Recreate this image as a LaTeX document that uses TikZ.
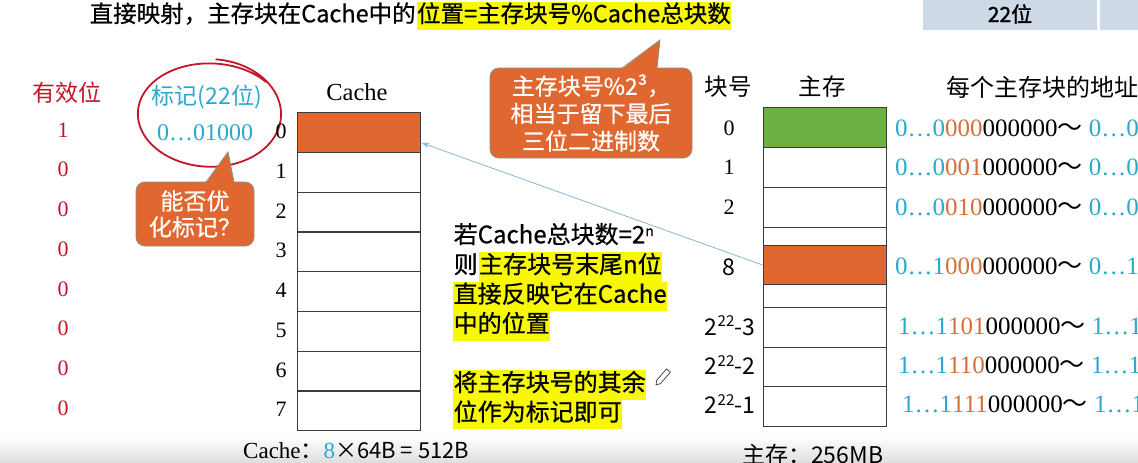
\documentclass[tikz,border=0pt]{standalone}
\usepackage{fontspec}
\setmainfont{Liberation Serif}
\newfontfamily\cjk{Noto Sans CJK SC}
\newfontfamily\cjkm[FakeBold=0.6]{Noto Sans CJK SC}
\newfontfamily\cjkb[FakeBold=1.6]{Noto Sans CJK SC}
\usetikzlibrary{calc,arrows.meta}
\definecolor{orng}{RGB}{224,104,48}
\definecolor{grn}{RGB}{108,176,68}
\definecolor{cyn}{RGB}{44,168,208}
\definecolor{redt}{RGB}{196,22,42}
\definecolor{hl}{RGB}{248,248,0}
\definecolor{cellbg}{RGB}{206,217,232}
\definecolor{addrorg}{RGB}{214,112,56}
\definecolor{linkc}{RGB}{140,180,215}
\definecolor{boxline}{RGB}{60,60,60}
\newcommand\myfs[2]{\fontsize{#1}{#2}\selectfont}
\newcommand\addr[3]{\textcolor{cyn}{#1}\textcolor{addrorg}{#2}000000{\cjk ～} \textcolor{cyn}{#3}}
\newcommand\pw[1]{2\raisebox{0.7ex}{\myfs{15}{15}22}-#1}

\begin{document}
\begin{tikzpicture}[x=1pt,y=-1pt,
  rowbox/.style={draw=boxline, line width=1.3pt, minimum width=123pt, inner sep=0, anchor=north west},
  numlab/.style={font=\myfs{22}{26}, inner sep=0},
  cjklab/.style={font=\cjk\myfs{23}{27}, inner sep=0},
  txtline/.style={font=\cjkm\myfs{24}{28}, anchor=west, inner xsep=0.5pt, inner ysep=3.3pt, text height=17.5pt, text depth=5pt},
  hlline/.style={txtline, fill=hl},
  callout/.style={draw=black!45, line width=0.8pt, fill=orng, rounded corners=9pt, text=white, align=center, inner sep=0},
  addrtxt/.style={font=\myfs{25}{29}, anchor=west, inner sep=0},
  redring/.style={draw=redt, line width=1.8pt, line cap=round}
]
\clip (0,0) rectangle (1138,463);
\fill[white] (0,0) rectangle (1138,463);

% soft grey band along the bottom edge
\shade[top color=white, bottom color=black!13] (0,436) rectangle (1138,463);

% header cells at the top right
\fill[cellbg] (923,0) rectangle (1097,30);
\fill[cellbg] (1100,0) rectangle (1138,30);
\node[font=\cjkb\myfs{21}{25}, inner sep=0] (w22) at (1010,14) {22位};

% title line
\node[txtline, font=\cjkm\myfs{23.5}{28}, inner ysep=3pt] (t1) at (89,16) {直接映射，主存块在Cache中的};
\node[hlline, font=\cjkm\myfs{23.5}{28}, inner ysep=3pt] (t2) at (t1.east) {位置=主存块号\%Cache总块数};

% valid bits
\node[cjklab, text=redt] (vh) at (67,93) {有效位};
\foreach \v [count=\i from 0] in {1,0,0,0,0,0,0,0}
  \node[numlab, text=redt] (v\i) at (63,130+39.7*\i) {\v};

% tag column
\node[cjklab, text=cyn] (tagh) at (207,97) {标记(22位)};
\node[font=\myfs{24}{28}, text=cyn, inner sep=0] (tagv) at (205,133) {0…01000};
\draw[redring] plot[domain=40:445, samples=90, smooth]
  ({210+(73-0.006*(\x-40))*cos(\x)}, {114-(50+0.012*(\x-40))*sin(\x)});

% callout: can the tag be shortened?
\node[callout, font=\cjkm\myfs{23}{26}, minimum width=118pt, minimum height=64pt] (q1) at (195,214)
  {能否优\\化标记？};
\fill[orng] (206,183) -- (228,152) -- (234,183) -- cycle;
\draw[black!45, line width=0.8pt] (206,182) -- (228,152) -- (234,182);

% cache
\node[font=\myfs{24.5}{28}, inner sep=0] (cacheh) at (357,92) {Cache};
\foreach \i in {0,...,7} {
  \node[rowbox, minimum height=39.75pt] (c\i) at (297,112+39.75*\i) {};
  \node[numlab] (cn\i) at (281,131.5+39.75*\i) {\i};
}
\node[rowbox, minimum height=39.75pt, fill=orng] (c0) at (297,112) {};
\node[font=\myfs{23}{27}, anchor=west, inner sep=0] (csize) at (243,451)
  {Cache{\cjk ：}\textcolor{cyn}{8}{\cjk\myfs{22}{26}×64B = 512B}};

% callout: block number modulo 2^3
\node[callout, font=\cjkm\myfs{23}{27.5}, minimum width=202pt, minimum height=90pt] (q2) at (591,113)
  {主存块号\%2³，\\相当于留下最后\\三位二进制数};
\fill[orng] (622,69) -- (660,40) -- (657,69) -- cycle;
\draw[black!45, line width=0.8pt] (622,68) -- (660,40) -- (657,68);

% explanation text
\node[txtline] (e1) at (453,237) {若Cache总块数=2\raisebox{0.55ex}{\myfs{14}{14}n}};
\node[txtline] (e2a) at (453,267) {则};
\node[hlline] (e2b) at (e2a.east) {主存块号末尾n位};
\node[hlline] (e3) at (453,296.5) {直接反映它在Cache};
\node[hlline] (e4) at (453,326) {中的位置};
\node[hlline] (e5) at (453,385) {将主存块号的其余};
\node[hlline] (e6) at (453,414.5) {位作为标记即可};

% pencil mark
\draw[black!70, line width=0.8pt, line join=round]
  (656,385) -- (660.5,383.6) -- (670.3,372.2) -- (666.5,368.9) -- (656.7,380.3) -- cycle;

% main memory
\node[cjklab, font=\cjk\myfs{23.5}{27}] (bh) at (728,87) {块号};
\node[cjklab, font=\cjk\myfs{23.5}{27}] (mh) at (822,87) {主存};
\node[cjklab, font=\cjk\myfs{24}{28}, anchor=west] (ah) at (946,87) {每个主存块的地址};
\node[rowbox, minimum height=40pt, fill=grn] (m0) at (763,107) {};
\node[rowbox, minimum height=40pt] (m1) at (763,147) {};
\node[rowbox, minimum height=40pt] (m2) at (763,187) {};
\node[rowbox, minimum height=18pt] (mg1) at (763,227) {};
\node[rowbox, minimum height=39pt, fill=orng] (m8) at (763,245) {};
\node[rowbox, minimum height=23pt] (mg2) at (763,284) {};
\node[rowbox, minimum height=40pt] (mc) at (763,307) {};
\node[rowbox, minimum height=39pt] (md) at (763,347) {};
\node[rowbox, minimum height=40pt] (me) at (763,386) {};

\node[numlab] (bn0) at (729,128) {0};
\node[numlab] (bn1) at (729,167) {1};
\node[numlab] (bn2) at (729,207) {2};
\node[font=\cjk\myfs{23}{27}, inner sep=0] (bn8) at (729,267) {8};
\node[font=\cjk\myfs{23}{27}, inner sep=0] (bnc) at (730,326) {\pw{3}};
\node[font=\cjk\myfs{23}{27}, inner sep=0] (bnd) at (730,365) {\pw{2}};
\node[font=\cjk\myfs{23}{27}, inner sep=0] (bne) at (730,404) {\pw{1}};

\node[addrtxt] (a0) at (895,128) {\addr{0…0}{000}{0…0000111111}};
\node[addrtxt] (a1) at (895,167) {\addr{0…0}{001}{0…0001111111}};
\node[addrtxt] (a2) at (895,207) {\addr{0…0}{010}{0…0010111111}};
\node[addrtxt] (a8) at (895,266) {\addr{0…1}{000}{0…1000111111}};
\node[addrtxt] (ac) at (898,326) {\addr{1…1}{101}{1…1101111111}};
\node[addrtxt] (ad) at (898,365) {\addr{1…1}{110}{1…1110111111}};
\node[addrtxt] (ae) at (902,404) {\addr{1…1}{111}{1…1111111111}};

\node[font=\cjk\myfs{23}{27}, anchor=west, inner sep=0] (msize) at (742,455) {主存：256MB};

% mapping of block 8 onto cache line 0
\coordinate (cin) at ($(c0.east)!0.5!(c0.south east)$);
\draw[linkc, line width=0.8pt, -{Stealth[length=8pt,width=5pt]}] (m8.west) -- (cin);
\end{tikzpicture}
\end{document}
